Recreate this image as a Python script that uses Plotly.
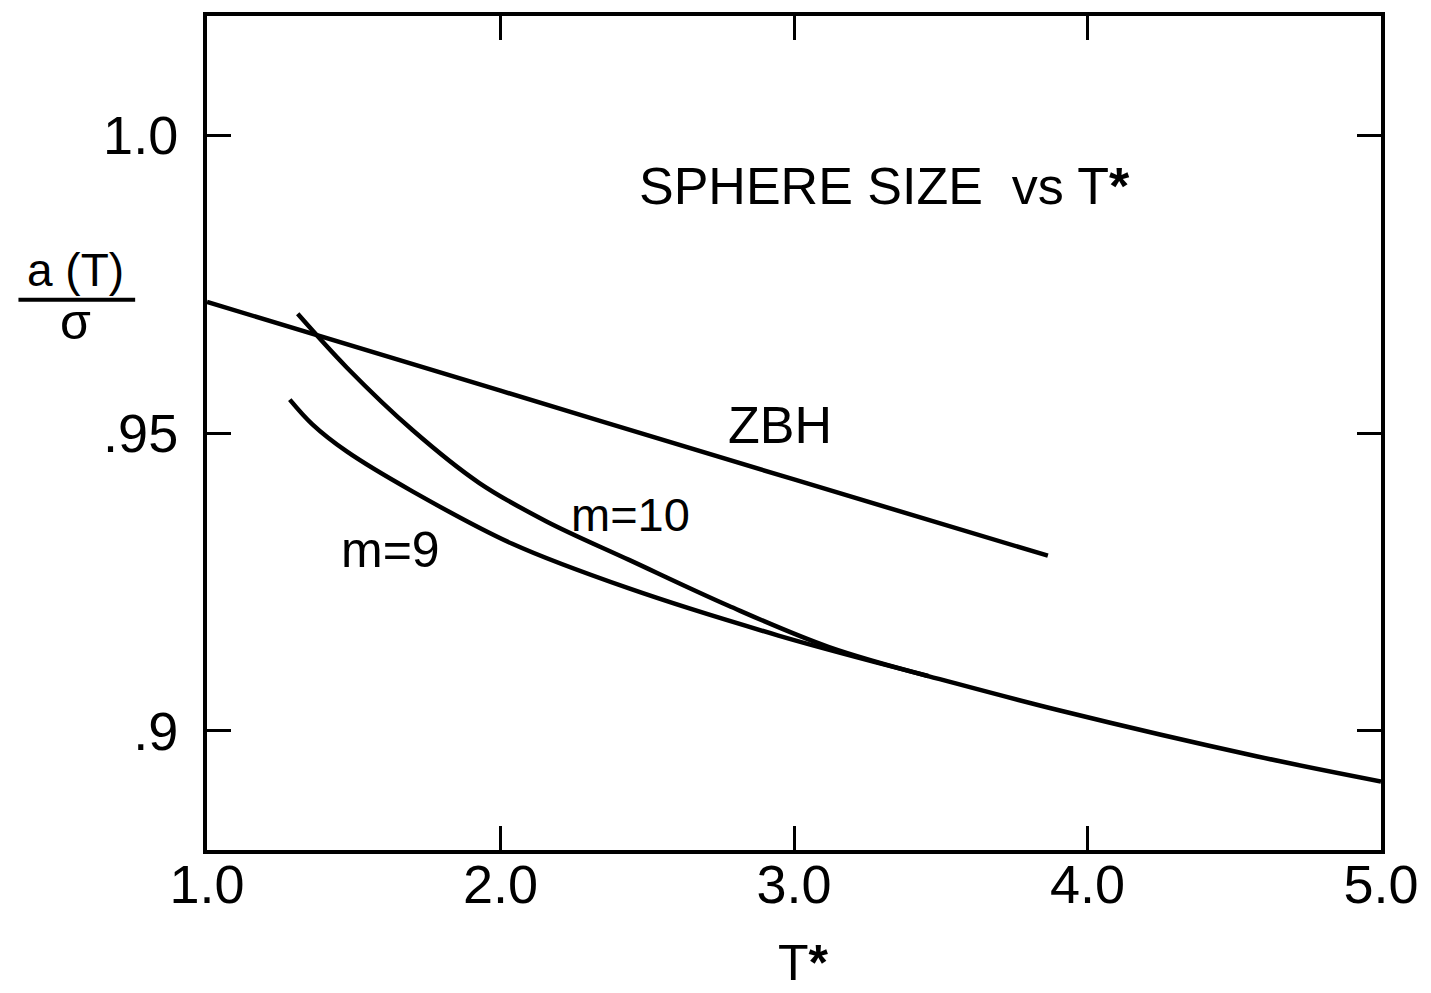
import plotly.graph_objects as go

# Reduced temperature T* and sphere size a(T)/sigma for each model
t_zbh = [1.0, 2.0, 3.0, 3.865]
a_zbh = [0.9720, 0.9571, 0.9422, 0.9294]

t_m10 = [1.309, 1.476, 1.700, 1.928, 2.155, 2.438, 2.777, 3.117, 3.457]
a_m10 = [0.9700, 0.9610, 0.9505, 0.9416, 0.9352, 0.9287, 0.9210, 0.9141, 0.9092]

t_m9 = [1.282, 1.360, 1.476, 1.700, 2.040, 2.438, 2.947, 3.457, 3.899, 4.579, 5.0]
a_m9 = [0.9556, 0.9514, 0.9469, 0.9402, 0.9314, 0.9239, 0.9160, 0.9092, 0.9035, 0.8957, 0.8915]

x_ticks = [1.0, 2.0, 3.0, 4.0, 5.0]
x_labels = ["1.0", "2.0", "3.0", "4.0", "5.0"]
y_ticks = [0.9, 0.95, 1.0]
y_labels = [".9", ".95", "1.0"]

FONT = "Liberation Sans, Arial, sans-serif"
INK = "black"

fig = go.Figure()
for t, a in [(t_zbh, a_zbh), (t_m10, a_m10), (t_m9, a_m9)]:
    fig.add_trace(go.Scatter(x=t, y=a, mode="lines", line=dict(color=INK, width=4.5, shape="spline"),
                             showlegend=False, hoverinfo="skip"))

# curve labels and heading
fig.add_annotation(x=2.951, y=0.9513, text="ZBH", showarrow=False,
                   font=dict(family=FONT, size=52, color=INK))
fig.add_annotation(x=2.444, y=0.9364, text="m=10", showarrow=False,
                   font=dict(family=FONT, size=47, color=INK))
fig.add_annotation(x=1.625, y=0.9304, text="m=9", showarrow=False,
                   font=dict(family=FONT, size=50, color=INK))
fig.add_annotation(x=2.465, y=0.9915, xanchor="left", yanchor="middle",
                   text="SPHERE SIZE  vs T<b>*</b>",
                   showarrow=False, font=dict(family=FONT, size=52, color=INK))

# axis titles: T* below, a(T)/sigma as a stacked fraction on the left
fig.add_annotation(xref="paper", yref="paper", x=0.508, y=-0.135, xanchor="center", yanchor="middle",
                   text="T<b>*</b>", showarrow=False, font=dict(family=FONT, size=50, color=INK))
fig.add_annotation(xref="paper", yref="paper", x=-0.1121, y=0.6950, xanchor="center", yanchor="middle",
                   text="a (T)", showarrow=False, font=dict(family=FONT, size=46, color=INK))
fig.add_annotation(xref="paper", yref="paper", x=-0.1121, y=0.6330, xanchor="center", yanchor="middle",
                   text="σ", showarrow=False, font=dict(family=FONT, size=50, color=INK))
fig.add_shape(type="line", xref="paper", yref="paper", x0=-0.1606, x1=-0.0612, y0=0.6599, y1=0.6599,
              line=dict(color=INK, width=4))

axis_common = dict(showgrid=False, zeroline=False, showline=True, linecolor=INK, linewidth=4,
                   mirror="ticks", ticks="inside", ticklen=24, tickwidth=3, tickcolor=INK,
                   tickfont=dict(family=FONT, size=54, color=INK))

fig.update_xaxes(range=[1.0, 5.0], tickvals=x_ticks, ticktext=x_labels, ticklabelstandoff=-16, **axis_common)
fig.update_yaxes(range=[0.880, 1.020], tickvals=y_ticks, ticktext=y_labels, ticklabelstandoff=14, **axis_common)

fig.update_layout(width=1431, height=993, margin=dict(l=207, r=47, t=12, b=143),
                  plot_bgcolor="white", paper_bgcolor="white", showlegend=False)

fig.write_html("out.html")
